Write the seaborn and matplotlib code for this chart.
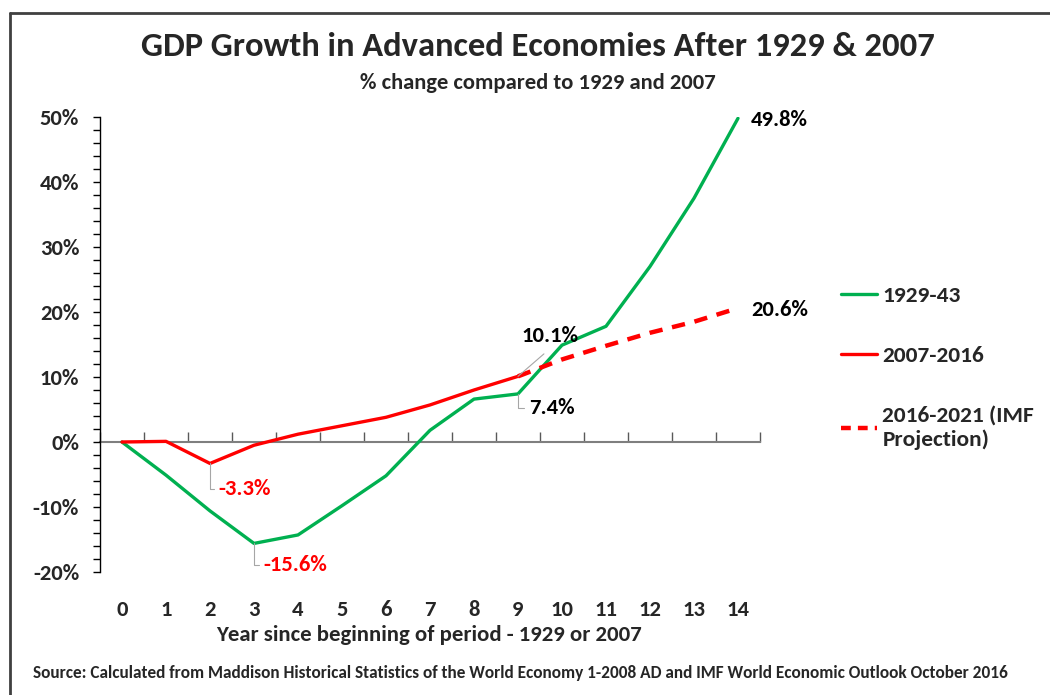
import numpy as np
import pandas as pd
import matplotlib
matplotlib.use("Agg")
import matplotlib.pyplot as plt
from matplotlib.lines import Line2D
from matplotlib.ticker import MultipleLocator, FuncFormatter
import seaborn as sns

# values (% change vs 1929 / 2007)
years_1929 = list(range(0, 15))
gdp_1929 = [0, -5.1, -10.6, -15.6, -14.3, -9.8, -5.2, 1.8, 6.6, 7.4, 14.9, 17.8, 27.0, 37.5, 49.8]
years_2007 = list(range(0, 10))
gdp_2007 = [0, 0.1, -3.3, -0.5, 1.2, 2.5, 3.8, 5.7, 8.0, 10.1]
years_imf = list(range(9, 15))
gdp_imf = [10.1, 12.7, 14.8, 16.8, 18.5, 20.6]

series_names = ["1929-43", "2007-2016", "2016-2021 (IMF\nProjection)"]
green = "#00B050"
red = "#FF0000"

sns.set_style("white")
plt.rcParams['font.family'] = ['Carlito', 'DejaVu Sans']
plt.rcParams['font.weight'] = 'bold'

fig = plt.figure(figsize=(10.5, 6.95), dpi=100)
ax = fig.add_axes([100/1050, 1-572/695, 660/1050, 455/695])

df1 = pd.DataFrame({"year": years_1929, "gdp": gdp_1929})
df2 = pd.DataFrame({"year": years_2007, "gdp": gdp_2007})
df3 = pd.DataFrame({"year": years_imf, "gdp": gdp_imf})

sns.lineplot(data=df1, x="year", y="gdp", ax=ax, color=green, lw=2.4, zorder=3)
sns.lineplot(data=df2, x="year", y="gdp", ax=ax, color=red, lw=2.4, zorder=3)
sns.lineplot(data=df3, x="year", y="gdp", ax=ax, color=red, lw=3.2, zorder=3,
             linestyle=(0, (3, 2.2)))

ax.set_xlim(-0.5, 14.5)
ax.set_ylim(-20, 50)
ax.set_xlabel("")
ax.set_ylabel("")

# y axis
ax.yaxis.set_major_locator(MultipleLocator(10))
ax.yaxis.set_minor_locator(MultipleLocator(2))
ax.yaxis.set_major_formatter(FuncFormatter(lambda v, p: f"{v:.0f}%"))
ax.tick_params(axis='y', which='both', left=True, direction='out', length=5,
               width=1, color='black', labelsize=16.3, pad=10)
for lab in ax.get_yticklabels():
    lab.set_fontweight('bold')

# x axis labels at bottom, no marks
ax.set_xticks(years_1929)
ax.tick_params(axis='x', which='both', bottom=False, labelsize=16.3, pad=17)
for lab in ax.get_xticklabels():
    lab.set_fontweight('bold')

for s in ['top', 'right', 'bottom']:
    ax.spines[s].set_visible(False)
ax.spines['left'].set_color('black')
ax.spines['left'].set_linewidth(1)

# horizontal axis line at zero, with tick marks between categories
sec = ax.secondary_xaxis(20/70)
sec.set_xticks(np.arange(-0.5, 15, 1))
sec.tick_params(direction='in', length=7, width=1, color='#595959', labelbottom=False)
sec.spines['bottom'].set_color('#7f7f7f')
sec.spines['bottom'].set_linewidth(1.5)

# data labels
lead = dict(arrowstyle='-', color='#a6a6a6', lw=0.8, shrinkA=1, shrinkB=0,
            connectionstyle='angle,angleA=0,angleB=90,rad=0', relpos=(0, 0.5))
ax.annotate("-3.3%", xy=(2, -3.3), xytext=(2.2, -7.3), color=red, fontsize=16.3,
            fontweight='bold', va='center', ha='left', arrowprops=lead)
ax.annotate("-15.6%", xy=(3, -15.6), xytext=(3.22, -18.9), color=red, fontsize=16.3,
            fontweight='bold', va='center', ha='left', arrowprops=lead)
ax.annotate("7.4%", xy=(9, 7.4), xytext=(9.25, 5.3), color='black', fontsize=16.3,
            fontweight='bold', va='center', ha='left', arrowprops=lead)
ax.annotate("10.1%", xy=(9, 10.1), xytext=(9.73, 16.3), color='black', fontsize=16.3,
            fontweight='bold', va='center', ha='center',
            arrowprops=dict(arrowstyle='-', color='#a6a6a6', lw=0.8, shrinkA=5,
                            shrinkB=0, relpos=(0.55, 0)))
ax.annotate("49.8%", xy=(14, gdp_1929[-1]), xytext=(14.3, 49.5), color='black',
            fontsize=16.3, fontweight='bold', va='center', ha='left',
            annotation_clip=False)
ax.annotate("20.6%", xy=(14, gdp_imf[-1]), xytext=(14.3, 20.3), color='black',
            fontsize=16.3, fontweight='bold', va='center', ha='left',
            annotation_clip=False)

# legend
handles = [Line2D([], [], color=green, lw=2.4),
           Line2D([], [], color=red, lw=2.4),
           Line2D([], [], color=red, lw=3.2, linestyle=(0, (2.2, 1.6)))]
fig.legend(handles, series_names, loc='upper left',
           bbox_to_anchor=(820/1050, 1-265/695), frameon=False,
           prop={'family': 'Carlito', 'weight': 'bold', 'size': 16.8},
           handlelength=1.55, handletextpad=0.22, labelspacing=1.7)

# titles and notes
fig.text(538/1050, 1-47/695, "GDP Growth in Advanced Economies After 1929 & 2007",
         ha='center', va='center', fontsize=24.8, fontweight='bold')
fig.text(538/1050, 1-83/695, "% change compared to 1929 and 2007",
         ha='center', va='center', fontsize=16.3, fontweight='bold')
fig.text(429/1050, 1-635/695, "Year since beginning of period - 1929 or 2007",
         ha='center', va='center', fontsize=16.4, fontweight='bold')
fig.text(33/1050, 1-673/695,
         "Source: Calculated from Maddison Historical Statistics of the World Economy 1-2008 AD and IMF World Economic Outlook October 2016",
         ha='left', va='center', fontsize=12.4, fontweight='bold')

# frame around the chart (left and top edges visible)
fig.add_artist(Line2D([10/1050, 10/1050], [0, 1-13/695], color='#404040', lw=2))
fig.add_artist(Line2D([10/1050, 1], [1-13/695, 1-13/695], color='#404040', lw=2))

fig.savefig("out.png", dpi=100)
